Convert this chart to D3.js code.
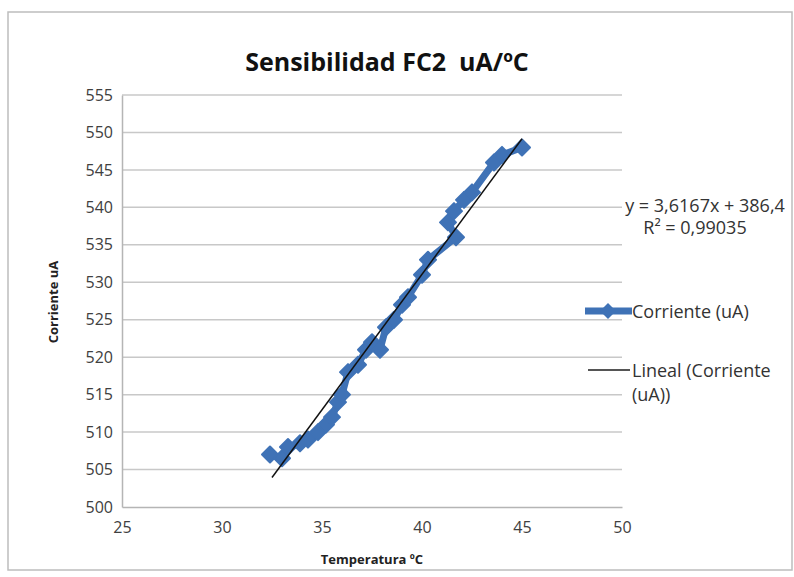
<!DOCTYPE html>
<html><head><meta charset="utf-8">
<script src="https://cdn.jsdelivr.net/npm/d3@7"></script>
<style>body{margin:0;background:#fff;} svg{display:block;} text{font-family:"Open Sans",Lato,sans-serif;white-space:pre;}</style>
</head><body>
<svg id="c" width="794" height="577"></svg>
<script>
const temperatura = [32.4,33.0,33.3,33.9,34.3,34.8,35.2,35.5,35.8,36.0,36.3,36.8,37.2,37.5,37.9,38.2,38.6,39.0,39.3,40.0,40.3,41.7,41.3,41.6,42.1,42.5,43.6,44.0,45.0];
const corriente   = [507,506.5,508,508.5,509,510,511,512,514,515,518,519,521,522,521,524,525,527,528,531,533,536,538,539.5,541,542,546,547,548];
const xTicks = [25,30,35,40,45,50];
const yTicks = [500,505,510,515,520,525,530,535,540,545,550,555];
const slope = 3.6167, intercept = 386.4, r2 = "0,99035";
const trendRange = [32.5, 45];
const titleText = "Sensibilidad FC2  uA/ºC";
const xTitle = "Temperatura ºC", yTitle = "Corriente uA";
const seriesName = "Corriente (uA)";
const trendName = ["Lineal (Corriente", "(uA))"];
const eqText = "y = 3,6167x + 386,4", r2Text = "R² = " + r2;

const svg = d3.select("#c");
const blue = "#3F72B6";
svg.append("rect").attr("x",8).attr("y",12).attr("width",784).attr("height",558)
  .attr("fill","#fff").attr("stroke","#bdbdbd").attr("stroke-width",1.5);

const x = d3.scaleLinear().domain([25,50]).range([122,622]);
const y = d3.scaleLinear().domain([500,555]).range([507,95]);

svg.append("g").selectAll("line").data(yTicks.slice(1)).join("line")
  .attr("x1",x(25)).attr("x2",x(50)).attr("y1",d=>y(d)).attr("y2",d=>y(d))
  .attr("stroke","#c8c8c8").attr("stroke-width",1.5);

const xa = svg.append("g").attr("transform",`translate(0,${y(500)})`)
  .call(d3.axisBottom(x).tickValues(xTicks).tickSize(0).tickPadding(15));
const ya = svg.append("g").attr("transform",`translate(${x(25)},0)`)
  .call(d3.axisLeft(y).tickValues(yTicks).tickSize(0).tickPadding(9));
[xa,ya].forEach(a=>{
  a.select(".domain").attr("stroke","#b5b5b5").attr("stroke-width",1.5);
  a.selectAll("text").attr("font-size",16).attr("fill","#404040").attr("font-family","'Open Sans',sans-serif");
});

const diamondPath = "M0,-8L8,0L0,8L-8,0Z";
const line = d3.line().x((d,i)=>x(temperatura[i])).y((d,i)=>y(corriente[i]));
svg.append("path").datum(corriente).attr("d",line).attr("fill","none")
  .attr("stroke",blue).attr("stroke-width",7).attr("stroke-linejoin","round");
svg.append("g").selectAll("path").data(corriente).join("path")
  .attr("d",diamondPath).attr("transform",(d,i)=>`translate(${x(temperatura[i])},${y(d)})`)
  .attr("fill",blue).attr("stroke",blue).attr("stroke-width",2).attr("stroke-linejoin","round");

svg.append("line").attr("x1",x(trendRange[0])).attr("y1",y(slope*trendRange[0]+intercept))
  .attr("x2",x(trendRange[1])).attr("y2",y(slope*trendRange[1]+intercept))
  .attr("stroke","#111").attr("stroke-width",1.5);

svg.append("text").attr("x",387).attr("y",71).attr("text-anchor","middle")
  .attr("font-size",25).attr("font-weight","bold").attr("fill","#111").text(titleText);
svg.append("text").attr("x",372).attr("y",564).attr("text-anchor","middle")
  .attr("font-size",13).attr("font-weight","bold").attr("fill","#222").text(xTitle);
svg.append("text").attr("transform","translate(58,302) rotate(-90)").attr("text-anchor","middle")
  .attr("font-size",13).attr("font-weight","bold").attr("fill","#222").text(yTitle);

svg.append("text").attr("x",705).attr("y",212).attr("text-anchor","middle")
  .attr("font-size",18).attr("fill","#333").text(eqText);
svg.append("text").attr("x",695).attr("y",234).attr("text-anchor","middle")
  .attr("font-size",18).attr("fill","#333").text(r2Text);

svg.append("line").attr("x1",585).attr("x2",632).attr("y1",311).attr("y2",311)
  .attr("stroke",blue).attr("stroke-width",7);
svg.append("path").attr("d",diamondPath).attr("transform","translate(608,311)").attr("fill",blue);
svg.append("text").attr("x",632).attr("y",318).attr("font-size",18).attr("fill","#333").text(seriesName);
svg.append("line").attr("x1",588).attr("x2",630).attr("y1",370).attr("y2",370)
  .attr("stroke","#555").attr("stroke-width",2);
svg.append("text").attr("x",632).attr("y",377).attr("font-size",18).attr("fill","#333").text(trendName[0]);
svg.append("text").attr("x",632).attr("y",401).attr("font-size",18).attr("fill","#333").text(trendName[1]);
</script>
</body></html>
